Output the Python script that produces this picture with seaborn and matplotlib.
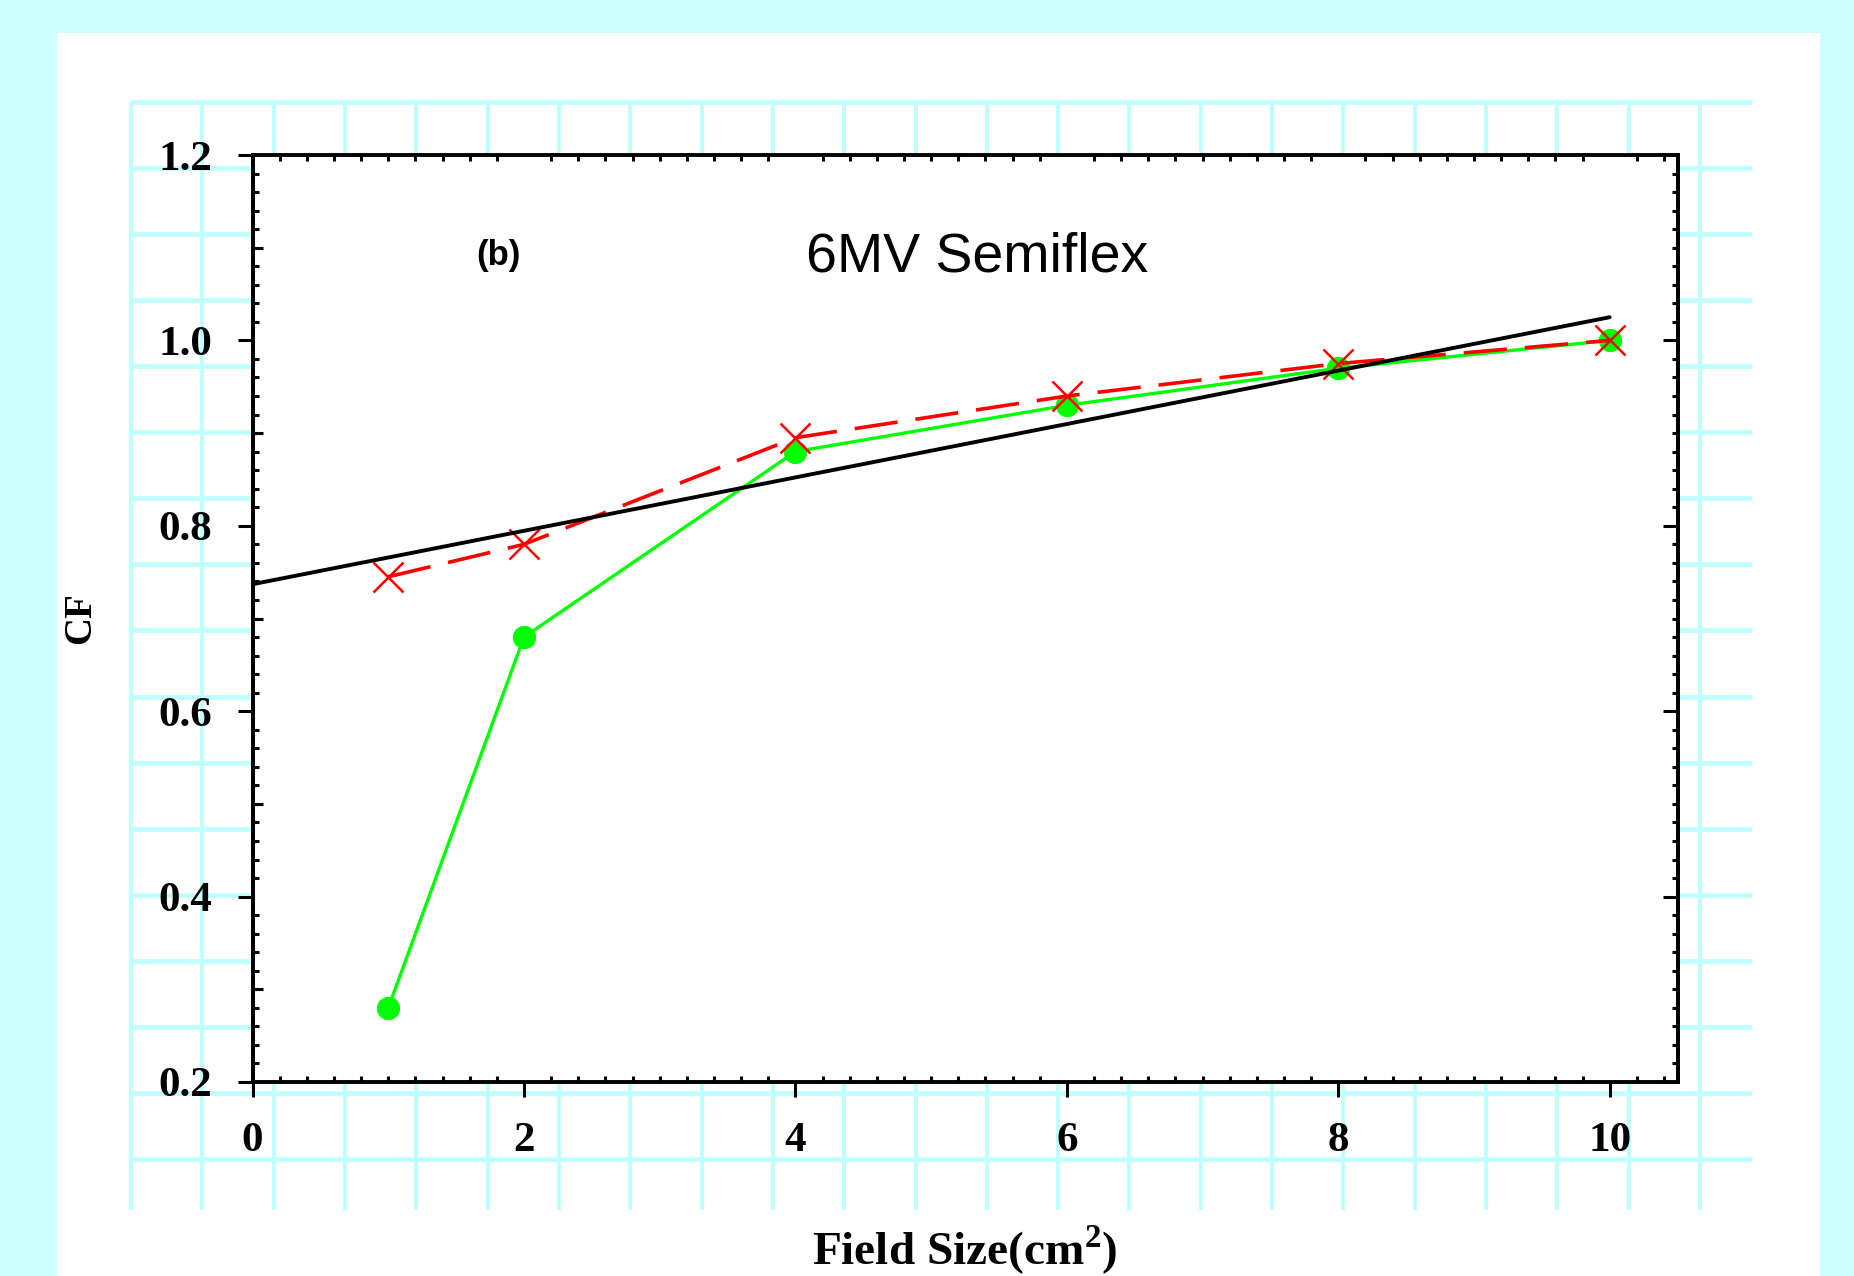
import matplotlib
matplotlib.use("Agg")
import matplotlib.pyplot as plt
import seaborn as sns
import numpy as np
from matplotlib.ticker import MultipleLocator, NullLocator

# ---- data ----
field_sizes = [1, 2, 4, 6, 8, 10]
cf_green = [0.28, 0.68, 0.88, 0.93, 0.97, 1.00]
cf_red = [0.745, 0.78, 0.895, 0.94, 0.975, 1.00]
fit_x = [0, 10]
fit_y = [0.737, 1.025]
x_ticks = [0, 2, 4, 6, 8, 10]
x_tick_labels = ["0", "2", "4", "6", "8", "10"]
y_ticks = [0.2, 0.4, 0.6, 0.8, 1.0, 1.2]
y_tick_labels = ["0.2", "0.4", "0.6", "0.8", "1.0", "1.2"]
y_mid_ticks = [0.3, 0.5, 0.7, 0.9, 1.1]

sns.set_style("ticks")
plt.rcParams["font.family"] = ["Liberation Serif", "DejaVu Serif"]
plt.rcParams["font.weight"] = "bold"
plt.rcParams["mathtext.fontset"] = "custom"
plt.rcParams["mathtext.rm"] = "Liberation Serif:bold"
plt.rcParams["mathtext.bf"] = "Liberation Serif:bold"
for key in ["text.color", "axes.labelcolor", "xtick.color", "ytick.color", "axes.edgecolor"]:
    plt.rcParams[key] = "black"

W, H = 1854, 1276
fig = plt.figure(figsize=(W / 100, H / 100), dpi=100)
fig.patch.set_facecolor("#CCFFFF")

# background panel with light grid (pixel coordinates)
bg = fig.add_axes([0, 0, 1, 1], zorder=-1)
bg.set_xlim(0, W)
bg.set_ylim(H, 0)
bg.axis("off")
bg.add_patch(plt.Rectangle((57, 33), 1820 - 57, H - 33, facecolor="white", edgecolor="none"))
grid_col = "#C0FFFF"
for k in range(23):
    gx = 131 + 71.32 * k
    bg.plot([gx, gx], [102, 1210], color=grid_col, lw=2.9, solid_capstyle="butt")
for k in range(17):
    gy = 102 + 66.06 * k
    bg.plot([131, 1752], [gy, gy], color=grid_col, lw=3.4, solid_capstyle="butt")

ax = fig.add_axes([252.6 / W, 1 - 1082 / H, (1677.5 - 252.6) / W, (1082 - 155) / H], zorder=1)
ax.set_facecolor("white")

sns.lineplot(x=field_sizes, y=cf_green, ax=ax, color="#00FF00", lw=2.4,
             marker="o", markersize=16, markeredgecolor="#00FF00",
             markerfacecolor="#00FF00", zorder=3)
sns.lineplot(x=field_sizes, y=cf_red, ax=ax, color="#FF0000", lw=2.6,
             linestyle=(0, (12, 5)), marker="x", markersize=22,
             markeredgecolor="#FF0000", markeredgewidth=1.8, zorder=4)
sns.lineplot(x=fit_x, y=fit_y, ax=ax, color="black", lw=2.8, zorder=5)

ax.set_xlim(0, 10.5)
ax.set_ylim(0.2, 1.2)
ax.set_xticks(x_ticks)
ax.set_xticklabels(x_tick_labels)
ax.set_yticks(y_ticks)
ax.set_yticklabels(y_tick_labels)
ax.xaxis.set_minor_locator(MultipleLocator(0.2))
ax.yaxis.set_minor_locator(MultipleLocator(0.02))
ax.tick_params(which="major", direction="out", length=11, width=2.2, pad=18,
               left=True, bottom=True, right=False, top=False,
               labelsize=31, colors="black")
ax.tick_params(which="minor", direction="in", length=4.5, width=2.2,
               left=True, bottom=True, right=True, top=True, colors="black")
for sp in ax.spines.values():
    sp.set_visible(True)
    sp.set_linewidth(2.8)
    sp.set_color("black")

sec_r = ax.secondary_yaxis("right")
sec_r.set_yticks(y_ticks)
sec_r.set_yticklabels([])
sec_r.yaxis.set_minor_locator(NullLocator())
sec_r.tick_params(which="major", direction="in", length=11, width=2.2, colors="black")
sec_r.spines["right"].set_linewidth(2.8)
sec_r.spines["right"].set_color("black")

sec_l = ax.secondary_yaxis("left")
sec_l.set_yticks(y_mid_ticks)
sec_l.set_yticklabels([])
sec_l.yaxis.set_minor_locator(NullLocator())
sec_l.tick_params(which="major", direction="in", length=7, width=2.2, colors="black")
sec_l.spines["left"].set_linewidth(2.8)
sec_l.spines["left"].set_color("black")

ax.set_xlabel(r"Field Size(cm$^{\mathbf{2}}$)", fontsize=34, fontweight="bold", color="black")
ax.xaxis.set_label_coords(0.5, -0.197)
ax.xaxis.label.set_va("baseline")
ax.set_ylabel("CF", fontsize=28, fontweight="bold", color="black")
ax.yaxis.set_label_coords(-0.121, 0.5)
ax.yaxis.label.set_va("center")

ax.text(1.81, 1.092, "(b)", fontsize=25, fontweight="bold", color="black",
        family=["Liberation Sans", "DejaVu Sans"], ha="center", va="center")
ax.text(5.34, 1.089, "6MV Semiflex", fontsize=40, fontweight="normal", color="black",
        family=["Liberation Sans", "DejaVu Sans"], ha="center", va="center")

fig.savefig("out.png", dpi=100, facecolor=fig.get_facecolor())
